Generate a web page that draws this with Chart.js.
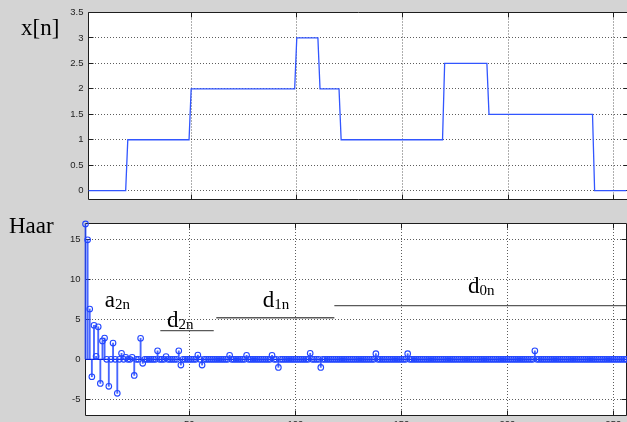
<!DOCTYPE html>
<html>
<head>
<meta charset="utf-8">
<script src="https://cdn.jsdelivr.net/npm/chart.js@4/dist/chart.umd.min.js"></script>
<style>
  html, body { margin: 0; padding: 0; }
  body { width: 627px; height: 422px; overflow: hidden; position: relative; background: #d4d4d4; }
  canvas { position: absolute; left: 0; }
  #signal { top: 0; }
  #haar { top: 205px; }
  .panel-title { position: absolute; z-index: 2; font-family: "Liberation Serif", "Times New Roman", serif;
                 font-size: 23px; line-height: 23px; color: #000; white-space: nowrap; }
</style>
</head>
<body>
<canvas id="signal" width="640" height="210"></canvas>
<canvas id="haar" width="640" height="240"></canvas>
<div class="panel-title" style="left:21px; top:15.5px;">x[n]</div>
<div class="panel-title" style="left:9px; top:213.5px;">Haar</div>

<script>
// ---- test signal x[n]: corner points of the piecewise-constant sequence ----
const sigN = [1, 19, 20, 49, 50, 99, 100, 110, 111, 120, 121, 169, 170, 190, 191, 240, 241, 256];
const sigV = [0, 0, 1, 1, 2, 2, 3, 3, 2, 2, 1, 1, 2.5, 2.5, 1.5, 1.5, 0, 0];

// ---- Haar wavelet coefficients, one array per band ----
const A2N = [16.89, 14.90, 6.28, -2.17, 4.25, 0.38, 4.06, -3.00,
             2.30, 2.65, 0, -3.36, 0, 2.03, 0, -4.24,
             0, 0.75, 0, 0.25, 0, 0, 0.25, -2.00,
             0, 0, 2.63, -0.50, 0, 0, 0, 0];
const D2N = [0, 0, 1.06, 0, 0, 0, 0.35, 0,
             0, 0, 0, 0, 1.06, -0.71, 0, 0,
             0, 0, 0, 0, 0, 0.53, 0, -0.71,
             0, 0, 0, 0, 0, 0, 0, 0];
const D1N = [0, 0, 0, 0, 0.5, 0, 0, 0, 0, 0, 0, 0, 0.5, 0, 0, 0,
             0, 0, 0, 0, 0, 0, 0, 0, 0.5, 0, 0, -1.0, 0, 0, 0, 0,
             0, 0, 0, 0, 0, 0, 0, 0, 0, 0, 0.75, 0, 0, 0, 0, -1.0,
             0, 0, 0, 0, 0, 0, 0, 0, 0, 0, 0, 0, 0, 0, 0, 0];
const D0N = [0, 0, 0, 0, 0, 0, 0, 0, 0, 0.71, 0, 0, 0, 0, 0, 0,
             0, 0, 0, 0, 0, 0, 0, 0, 0.71, 0, 0, 0, 0, 0, 0, 0,
             0, 0, 0, 0, 0, 0, 0, 0, 0, 0, 0, 0, 0, 0, 0, 0,
             0, 0, 0, 0, 0, 0, 0, 0, 0, 0, 0, 0, 0, 0, 0, 0,
             0, 0, 0, 0, 0, 0, 0, 0, 0, 0, 0, 0, 0, 0, 0, 0,
             0, 0, 0, 0, 1.06, 0, 0, 0, 0, 0, 0, 0, 0, 0, 0, 0,
             0, 0, 0, 0, 0, 0, 0, 0, 0, 0, 0, 0, 0, 0, 0, 0,
             0, 0, 0, 0, 0, 0, 0, 0, 0, 0, 0, 0, 0, 0, 0, 0];

// ---- tick labels ----
const X_TICKS = [50, 100, 150, 200, 250];
const SIGNAL_Y_TICKS = [0, 0.5, 1, 1.5, 2, 2.5, 3, 3.5];
const HAAR_Y_TICKS = [-5, 0, 5, 10, 15];

// band labels (a2n, d2n, d1n, d0n) and their span markers, in data units
const BAND_NOTES = [
  { sym: 'a', sub: '2n', tx: 10.1,  ty: 6.56 },
  { sym: 'd', sub: '2n', tx: 39.5,  ty: 4.07, from: 36.3,  to: 61.5,  level: 3.57 },
  { sym: 'd', sub: '1n', tx: 84.6,  ty: 6.56, from: 62.7,  to: 118.4, level: 5.19 },
  { sym: 'd', sub: '0n', tx: 181.4, ty: 8.23, from: 118.4, to: 256,   level: 6.69 }
];

const INK = '#1e1e1e';
const GRID = 'rgba(30,30,30,0.72)';
const LINE_BLUE = '#3256ff';
const STEM_BLUE = 'rgba(40,75,255,0.85)';
const MARK_BLUE = '#2246ff';
const BASE_BLUE = '#0018d8';

Chart.defaults.font.family = '"Liberation Sans", Arial, sans-serif';

const fixedTicks = values => scale => { scale.ticks = values.map(v => ({ value: v })); };
const snap = p => Math.round(p - 0.5) + 0.5;

// white plotting area
const whitePane = {
  id: 'whitePane',
  beforeDraw(chart) {
    const { ctx, chartArea: a } = chart;
    ctx.save();
    ctx.fillStyle = '#ffffff';
    ctx.fillRect(a.left, a.top, a.right - a.left, a.bottom - a.top);
    ctx.restore();
  }
};

// boxed axes with short inward tick marks on all four sides
const axesBox = {
  id: 'axesBox',
  beforeDatasetsDraw(chart) {
    const { ctx, chartArea: a, scales: { x, y } } = chart;
    const L = snap(a.left), R = snap(a.right), T = snap(a.top), B = snap(a.bottom);
    const len = 5;
    ctx.save();
    ctx.strokeStyle = INK;
    ctx.lineWidth = 1;
    ctx.beginPath();
    ctx.rect(L, T, R - L, B - T);
    x.ticks.forEach(t => {
      const px = snap(x.getPixelForValue(t.value));
      ctx.moveTo(px, T); ctx.lineTo(px, T + len);
      ctx.moveTo(px, B); ctx.lineTo(px, B - len);
    });
    y.ticks.forEach(t => {
      const py = snap(y.getPixelForValue(t.value));
      ctx.moveTo(L, py); ctx.lineTo(L + len, py);
      ctx.moveTo(R, py); ctx.lineTo(R - len, py);
    });
    ctx.stroke();
    ctx.restore();
  }
};

// stem baseline along y = 0 across the whole x range
const stemBaseline = {
  id: 'stemBaseline',
  beforeDatasetsDraw(chart) {
    const { ctx, scales: { x, y } } = chart;
    const py = y.getPixelForValue(0);
    ctx.save();
    ctx.strokeStyle = BASE_BLUE;
    ctx.lineWidth = 1.4;
    ctx.beginPath();
    ctx.moveTo(x.getPixelForValue(x.min), py);
    ctx.lineTo(x.getPixelForValue(x.max), py);
    ctx.stroke();
    ctx.restore();
  }
};

// a2n / d2n / d1n / d0n labels with their horizontal span markers
const bandNotes = {
  id: 'bandNotes',
  afterDatasetsDraw(chart) {
    const { ctx, scales: { x, y } } = chart;
    ctx.save();
    ctx.strokeStyle = '#5a5a5a';
    ctx.lineWidth = 1.3;
    BAND_NOTES.forEach(b => {
      if (b.from === undefined) return;
      const py = y.getPixelForValue(b.level);
      ctx.beginPath();
      ctx.moveTo(x.getPixelForValue(b.from), py);
      ctx.lineTo(x.getPixelForValue(b.to), py);
      ctx.stroke();
    });
    ctx.fillStyle = '#000';
    ctx.textBaseline = 'alphabetic';
    ctx.textAlign = 'left';
    BAND_NOTES.forEach(b => {
      const px = x.getPixelForValue(b.tx), py = y.getPixelForValue(b.ty);
      ctx.font = '23px "Liberation Serif", "Times New Roman", serif';
      ctx.fillText(b.sym, px, py);
      const w = ctx.measureText(b.sym).width;
      ctx.font = '15px "Liberation Serif", "Times New Roman", serif';
      ctx.fillText(b.sub, px + w, py + 2);
    });
    ctx.restore();
  }
};

const baseOptions = {
  responsive: false,
  animation: false,
  devicePixelRatio: 1,
  events: [],
  plugins: { legend: { display: false }, tooltip: { enabled: false } }
};

const gridOpts = { color: GRID, lineWidth: 1, drawTicks: false, offset: false };
const borderOpts = { display: false, dash: [1, 2] };
const tickFont = { size: 9.5 };

// ---- top panel: x[n] ----
new Chart(document.getElementById('signal'), {
  type: 'scatter',
  data: {
    datasets: [{
      data: sigN.map((n, i) => ({ x: n, y: sigV[i] })),
      showLine: true,
      borderColor: LINE_BLUE,
      borderWidth: 1.3,
      pointRadius: 0,
      tension: 0
    }]
  },
  options: Object.assign({}, baseOptions, {
    layout: { padding: { left: 0, top: 12.5, right: 12, bottom: 0 } },
    scales: {
      x: {
        type: 'linear', min: 1.4, max: 256.8, offset: false,
        afterBuildTicks: fixedTicks(X_TICKS),
        afterFit: s => { s.height = 6.5; },
        ticks: { display: false },
        grid: gridOpts, border: borderOpts
      },
      y: {
        type: 'linear', min: -0.17, max: 3.5,
        afterBuildTicks: fixedTicks(SIGNAL_Y_TICKS),
        afterFit: s => { s.width = 88.5; },
        ticks: { padding: 5, color: INK, font: tickFont, callback: v => String(v) },
        grid: gridOpts, border: borderOpts
      }
    }
  }),
  plugins: [whitePane, axesBox]
});

// ---- bottom panel: Haar coefficients as a stem plot ----
const haarCoef = [...A2N, ...D2N, ...D1N, ...D0N];
const stems = haarCoef.map((v, i) => ({ x: i + 1, y: v }));

new Chart(document.getElementById('haar'), {
  type: 'scatter',
  data: {
    datasets: [
      { type: 'bar', data: stems, backgroundColor: STEM_BLUE, borderWidth: 0, barThickness: 1.2,
        clip: false, order: 2 },
      { type: 'scatter', data: stems, pointStyle: 'circle', pointRadius: 2.8, pointBorderWidth: 1.1,
        pointBorderColor: MARK_BLUE, pointBackgroundColor: 'rgba(0,0,0,0)', clip: false, order: 1 }
    ]
  },
  options: Object.assign({}, baseOptions, {
    layout: { padding: { left: 0, top: 18, right: 14, bottom: 0 } },
    scales: {
      x: {
        type: 'linear', min: 1, max: 256, offset: false,
        afterBuildTicks: fixedTicks(X_TICKS),
        afterFit: s => { s.height = 29.5; },
        ticks: { padding: 3, color: INK, font: tickFont, callback: v => String(v) },
        grid: gridOpts, border: borderOpts
      },
      y: {
        type: 'linear', min: -7, max: 17,
        afterBuildTicks: fixedTicks(HAAR_Y_TICKS),
        afterFit: s => { s.width = 85.5; },
        ticks: { padding: 5, color: INK, font: tickFont, callback: v => String(v) },
        grid: gridOpts, border: borderOpts
      }
    }
  }),
  plugins: [whitePane, axesBox, stemBaseline, bandNotes]
});
</script>
</body>
</html>
